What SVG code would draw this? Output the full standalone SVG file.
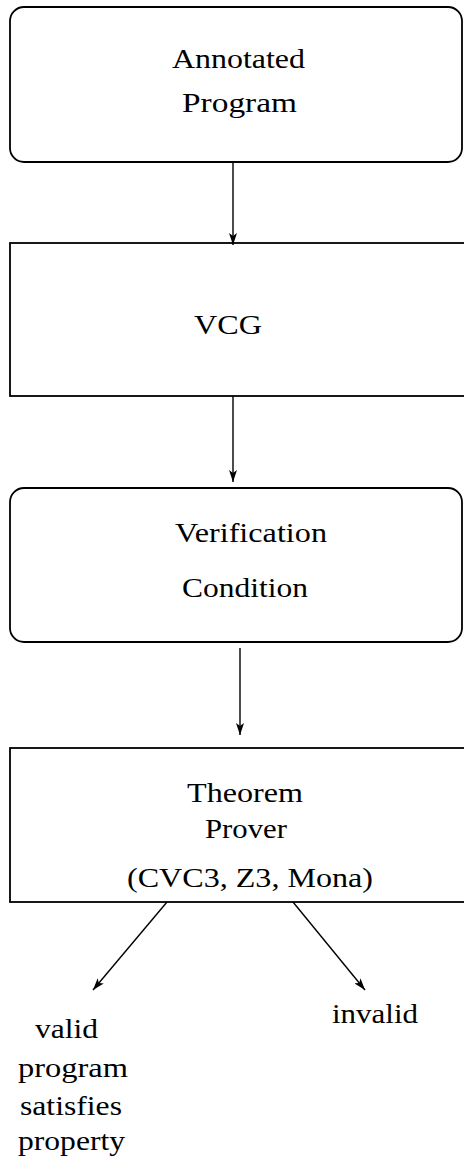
<svg xmlns="http://www.w3.org/2000/svg" width="464" height="1160" viewBox="0 0 464 1160">
<style>
.box{fill:#fff;stroke:#000;stroke-width:1.8}
.t{font-family:"Liberation Serif","Times New Roman",serif;font-size:27px;fill:#000}
.c{stroke:#000;stroke-width:1.4;fill:none}
</style>
<defs>
<marker id="ah" viewBox="0 0 12 8" refX="12" refY="4" markerWidth="12" markerHeight="8" markerUnits="userSpaceOnUse" orient="auto">
<path d="M0,0 L12,4 L0,8 L3,4 Z" fill="#000"/>
</marker>
</defs>
<rect width="464" height="1160" fill="#fff"/>
<g id="n1">
<rect class="box" x="10" y="7" width="452" height="155" rx="14"/>
<text class="t" x="172" y="68" textLength="133" lengthAdjust="spacingAndGlyphs">Annotated</text>
<text class="t" x="182" y="112" textLength="115" lengthAdjust="spacingAndGlyphs">Program</text>
</g>
<g id="n2">
<rect class="box" x="10" y="243" width="460" height="153"/>
<text class="t" x="194" y="334" textLength="68" lengthAdjust="spacingAndGlyphs">VCG</text>
</g>
<g id="n3">
<rect class="box" x="10" y="488" width="452" height="154" rx="14"/>
<text class="t" x="175" y="542" textLength="152" lengthAdjust="spacingAndGlyphs">Verification</text>
<text class="t" x="182" y="597" textLength="126" lengthAdjust="spacingAndGlyphs">Condition</text>
</g>
<g id="n4">
<rect class="box" x="10" y="748" width="460" height="154"/>
<text class="t" x="187" y="802" textLength="116" lengthAdjust="spacingAndGlyphs">Theorem</text>
<text class="t" x="205" y="838" textLength="82" lengthAdjust="spacingAndGlyphs">Prover</text>
<text class="t" x="127" y="887" textLength="246" lengthAdjust="spacingAndGlyphs">(CVC3, Z3, Mona)</text>
</g>
<g id="n5">
<text class="t" x="35" y="1038" textLength="63" lengthAdjust="spacingAndGlyphs">valid</text>
<text class="t" x="18" y="1077" textLength="110" lengthAdjust="spacingAndGlyphs">program</text>
<text class="t" x="20" y="1115" textLength="102" lengthAdjust="spacingAndGlyphs">satisfies</text>
<text class="t" x="18" y="1150" textLength="107" lengthAdjust="spacingAndGlyphs">property</text>
</g>
<g id="n6">
<text class="t" x="332" y="1023" textLength="86" lengthAdjust="spacingAndGlyphs">invalid</text>
</g>
<g id="connectors">
<line class="c" x1="233" y1="162" x2="233" y2="245" marker-end="url(#ah)"/>
<line class="c" x1="233" y1="396" x2="233" y2="482" marker-end="url(#ah)"/>
<line class="c" x1="240" y1="648" x2="240" y2="735" marker-end="url(#ah)"/>
<line class="c" x1="167" y1="902" x2="93" y2="990" marker-end="url(#ah)"/>
<line class="c" x1="293" y1="902" x2="365" y2="990" marker-end="url(#ah)"/>
</g>
</svg>
